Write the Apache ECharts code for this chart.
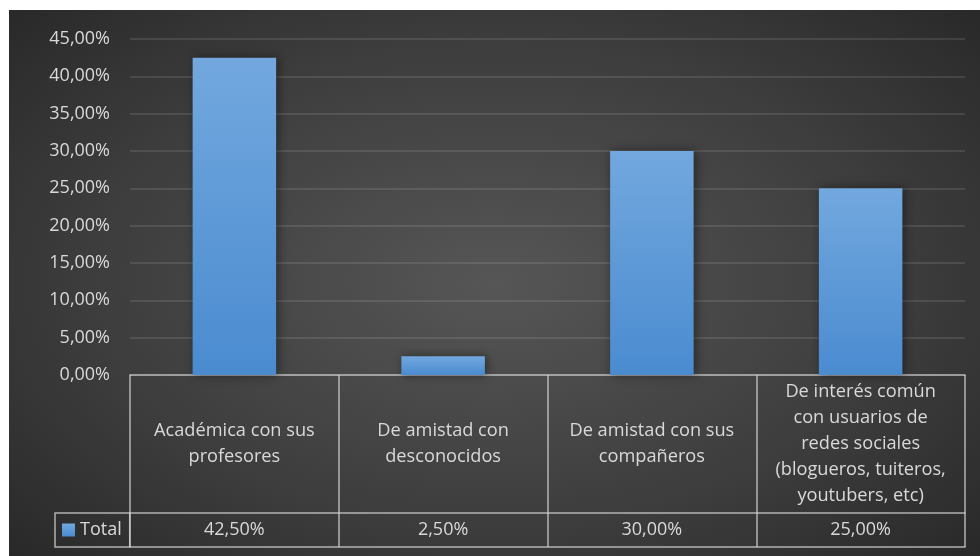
<!DOCTYPE html>
<html>
<head>
<meta charset="utf-8">
<script src="https://cdn.jsdelivr.net/npm/echarts@6/dist/echarts.min.js"></script>
<style>
  html, body { margin: 0; padding: 0; background: #ffffff; }
  #chart {
    position: absolute; left: 9px; top: 10px; width: 971px; height: 546px;
    background: radial-gradient(ellipse 75% 80% at 50% 50%, #565656 0%, #3d3d3d 55%, #242424 100%);
  }
</style>
</head>
<body>
<div id="chart"></div>
<script>
// Tipo de relación en redes sociales (porcentaje de respuestas)
const categories = [
  'Académica con sus\nprofesores',
  'De amistad con\ndesconocidos',
  'De amistad con sus\ncompañeros',
  'De interés común\ncon usuarios de\nredes sociales\n(blogueros, tuiteros,\nyoutubers, etc)'
];
const seriesName = 'Total';
const totalValues = [42.5, 2.5, 30.0, 25.0];
const yTicks = { min: 0, max: 45, interval: 5 };

const pct = v => v.toFixed(2).replace('.', ',') + '%';

const textColor = '#d9d9d9';
const tableLine = { color: 'rgba(210,210,210,0.8)', width: 1.5 };
const fontFamily = '"Open Sans", "Noto Sans", sans-serif';

const chart = echarts.init(document.getElementById('chart'), null, { renderer: 'canvas' });

chart.setOption({
  backgroundColor: 'transparent',
  animation: false,
  textStyle: { fontFamily: fontFamily },
  grid: { left: 121, right: 15, top: 29, bottom: 181, containLabel: false },
  legend: {
    data: [seriesName],
    left: 46,
    top: 503,
    icon: 'rect',
    itemWidth: 13,
    itemHeight: 13,
    padding: [7, 8, 7, 7],
    borderColor: tableLine.color,
    borderWidth: 1.5,
    textStyle: { color: textColor, fontSize: 18, lineHeight: 20, fontFamily: fontFamily }
  },
  xAxis: [
    {
      type: 'category',
      data: categories,
      position: 'bottom',
      axisLine: { show: true, lineStyle: tableLine },
      axisTick: { show: true, length: 172, alignWithLabel: false, lineStyle: tableLine },
      axisLabel: {
        interval: 0, margin: 69, verticalAlign: 'middle', align: 'center',
        color: textColor, fontSize: 18.2, lineHeight: 26, fontFamily: fontFamily
      },
      splitLine: { show: false }
    },
    {
      type: 'category',
      data: totalValues.map(pct),
      position: 'bottom',
      offset: 138,
      axisLine: { show: true, lineStyle: tableLine },
      axisTick: { show: false },
      axisLabel: {
        interval: 0, margin: 17, verticalAlign: 'middle', align: 'center',
        color: textColor, fontSize: 18, fontFamily: fontFamily
      }
    },
    {
      type: 'category',
      data: categories.map(() => ''),
      position: 'bottom',
      offset: 172,
      axisLine: { show: true, lineStyle: tableLine },
      axisTick: { show: false },
      axisLabel: { show: false }
    }
  ],
  yAxis: {
    type: 'value',
    min: yTicks.min,
    max: yTicks.max,
    interval: yTicks.interval,
    axisLine: { show: false },
    axisTick: { show: false },
    axisLabel: {
      margin: 20, color: textColor, fontSize: 18, fontFamily: fontFamily,
      formatter: v => pct(v)
    },
    splitLine: { show: true, lineStyle: { color: 'rgba(255,255,255,0.1)', width: 2 } }
  },
  series: [{
    name: seriesName,
    type: 'bar',
    xAxisIndex: 0,
    data: totalValues,
    barWidth: '40%',
    itemStyle: {
      color: new echarts.graphic.LinearGradient(0, 0, 0, 1, [
        { offset: 0, color: '#72a8de' },
        { offset: 1, color: '#4a8bd0' }
      ]),
      shadowColor: 'rgba(0,0,0,0.45)',
      shadowBlur: 10,
      shadowOffsetX: 2
    }
  }]
});
</script>
</body>
</html>
